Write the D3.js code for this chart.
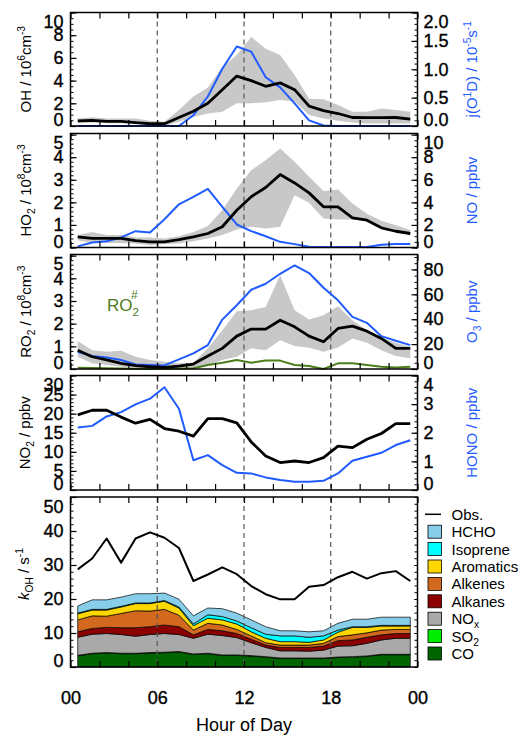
<!DOCTYPE html>
<html>
<head>
<meta charset="utf-8">
<script src="https://cdn.jsdelivr.net/npm/d3@7"></script>
<style>
  body { margin: 0; background: #fff; }
  svg { font-family: "Liberation Sans", Arial, sans-serif; }
</style>
</head>
<body>
<div id="chart"></div>
<script>
// hour-of-day bin centres
const hours = [0.5, 1.5, 2.5, 3.5, 4.5, 5.5, 6.5, 7.5, 8.5, 9.5, 10.5, 11.5,
               12.5, 13.5, 14.5, 15.5, 16.5, 17.5, 18.5, 19.5, 20.5, 21.5, 22.5, 23.5];
const hourTicks = [0, 2, 4, 6, 8, 10, 12, 14, 16, 18, 20, 22, 24];
const hourLabels = [0, 6, 12, 18, 24];
const dashedHours = [6, 12, 18];

// panel 1: OH (10^6 cm-3) and j(O1D) (10^-5 s-1)
const ohMean = [0.45, 0.5, 0.4, 0.4, 0.3, 0.2, 0.2, 0.75, 1.3, 2.0, 3.2, 4.4, 4.0, 3.5, 3.8, 3.2, 1.75, 1.35, 1.1, 0.75, 0.73, 0.73, 0.75, 0.6];
const ohHi   = [0.67, 0.76, 0.67, 0.67, 0.67, 0.47, 0.38, 1.4, 2.6, 3.4, 5.2, 6.25, 7.85, 6.8, 6.25, 4.5, 2.4, 2.35, 1.85, 1.26, 1.26, 1.55, 1.4, 1.26];
const ohLo   = [0.23, 0.3, 0.25, 0.25, 0.2, 0.1, 0.0, 0.38, 0.8, 1.1, 1.26, 2.0, 2.0, 2.1, 2.3, 2.15, 0.97, 0.67, 0.47, 0.3, 0.23, 0.23, 0.23, 0.23];
const jO1D   = [0, 0, 0, 0, 0, 0, 0, 0, 0.19, 0.52, 1.01, 1.40, 1.31, 0.86, 0.68, 0.40, 0.10, 0.01, 0, 0, 0, 0, 0, 0];

// panel 2: HO2 (10^8 cm-3) and NO (ppbv)
const ho2Mean = [0.47, 0.4, 0.4, 0.4, 0.3, 0.25, 0.25, 0.35, 0.47, 0.62, 0.92, 1.65, 2.25, 2.66, 3.23, 2.86, 2.42, 1.8, 1.8, 1.31, 1.21, 0.87, 0.72, 0.62];
const ho2Hi   = [0.55, 0.69, 0.55, 0.55, 0.44, 0.44, 0.4, 0.5, 0.69, 0.95, 1.65, 2.61, 3.42, 3.87, 4.39, 3.8, 3.13, 2.5, 2.57, 1.95, 1.5, 1.18, 0.99, 0.77];
const ho2Lo   = [0.32, 0.2, 0.2, 0.2, 0.18, 0.1, 0.15, 0.18, 0.28, 0.4, 0.55, 0.8, 0.92, 0.84, 0.92, 2.32, 1.98, 1.29, 1.24, 1.24, 1.17, 0.92, 0.77, 0.52];
const noVals  = [0.1, 0.45, 0.56, 0.89, 1.45, 1.33, 2.5, 3.83, 4.48, 5.19, 3.6, 2.04, 1.45, 1.0, 0.5, 0.3, 0.06, 0.05, 0.05, 0.05, 0.05, 0.24, 0.3, 0.3];

// panel 3: RO2 (10^8 cm-3), RO2# and O3 (ppbv)
const ro2Mean = [0.83, 0.54, 0.4, 0.25, 0.15, 0.1, 0.07, 0.13, 0.22, 0.57, 0.91, 1.45, 1.76, 1.76, 2.15, 1.86, 1.45, 1.2, 1.79, 1.89, 1.67, 1.35, 0.91, 0.91];
const ro2Hi   = [1.24, 0.83, 0.76, 0.8, 0.54, 0.4, 0.32, 0.25, 0.28, 0.91, 1.71, 2.55, 2.59, 2.74, 4.13, 2.59, 2.18, 2.37, 2.77, 2.15, 1.71, 1.39, 1.16, 0.98];
const ro2Lo   = [0.54, 0.25, 0.18, 0.1, 0.07, 0.03, 0.03, 0.03, 0.07, 0.18, 0.4, 0.54, 0.91, 0.83, 1.27, 1.01, 0.94, 0.76, 0.95, 1.35, 1.16, 0.83, 0.57, 0.47];
const ro2Sharp = [0.06, 0.04, 0.03, 0.02, 0.01, 0.0, 0.0, 0.01, 0.03, 0.18, 0.28, 0.4, 0.28, 0.37, 0.37, 0.18, 0.13, 0.0, 0.25, 0.25, 0.18, 0.1, 0.07, 0.1];
const o3Vals  = [13.9, 10.4, 9.3, 7.2, 3.7, 3.2, 2.9, 7.7, 12.5, 19.2, 39.7, 51.2, 63.7, 68.5, 76.5, 83.2, 77.1, 65.3, 55.2, 41.9, 37.1, 26.4, 22.7, 19.2];

// panel 4: NO2 and HONO (ppbv)
const no2Vals  = [19.7, 20.9, 20.9, 19.1, 17.5, 18.5, 16.1, 15.4, 14.1, 18.7, 18.7, 17.6, 12.6, 8.9, 7.2, 7.6, 7.2, 8.5, 11.5, 11.1, 13.3, 14.8, 17.4, 17.4];
const honoVals = [2.18, 2.24, 2.57, 2.72, 2.99, 3.19, 3.59, 2.84, 1.04, 1.22, 0.87, 0.6, 0.58, 0.44, 0.35, 0.29, 0.29, 0.32, 0.58, 1.02, 1.16, 1.3, 1.57, 1.74];

// panel 5: kOH (s-1), observed and calculated contributions
const kObs      = [28.7, 31.9, 37.8, 30.7, 37.8, 39.6, 38.0, 35.0, 25.3, 27.2, 29.3, 27.3, 23.8, 21.4, 19.9, 19.9, 23.6, 24.1, 26.4, 28.0, 26.0, 27.6, 28.2, 25.3];
const kCO       = [3.3, 3.9, 4.1, 3.9, 3.9, 4.1, 4.2, 4.4, 3.7, 3.9, 3.4, 3.4, 3.2, 2.9, 2.5, 2.5, 2.5, 2.5, 2.8, 2.9, 3.1, 3.6, 3.6, 3.6];
const kSO2      = [0.15, 0.15, 0.15, 0.15, 0.15, 0.15, 0.15, 0.15, 0.15, 0.15, 0.15, 0.15, 0.15, 0.15, 0.15, 0.15, 0.15, 0.15, 0.15, 0.15, 0.15, 0.15, 0.15, 0.15];
const kNOx      = [5.3, 5.6, 5.6, 5.5, 5.0, 5.3, 5.5, 5.0, 4.6, 5.6, 5.7, 5.1, 3.8, 2.7, 2.1, 2.1, 2.0, 2.3, 3.2, 3.2, 3.7, 4.2, 4.7, 4.7];
const kAlkanes  = [1.6, 1.7, 1.8, 2.0, 2.5, 2.3, 2.5, 2.3, 1.0, 1.4, 1.4, 1.2, 1.0, 0.7, 1.0, 1.0, 1.1, 1.2, 1.6, 1.7, 1.8, 1.5, 1.4, 1.4];
const kAlkenes  = [3.5, 3.7, 3.3, 4.2, 5.0, 4.6, 4.6, 3.4, 1.4, 1.8, 1.7, 1.2, 1.0, 0.7, 0.7, 0.7, 0.7, 0.8, 1.2, 1.5, 1.3, 1.4, 1.2, 1.2];
const kAromatics = [1.8, 1.7, 1.8, 1.9, 2.1, 2.2, 2.4, 2.1, 1.3, 1.5, 1.5, 1.6, 1.2, 1.3, 1.0, 1.0, 0.8, 1.0, 1.3, 2.2, 1.6, 1.2, 1.0, 1.0];
const kIsoprene = [0.2, 0.2, 0.2, 0.2, 0.2, 0.2, 0.2, 0.3, 0.5, 1.0, 1.0, 0.9, 1.2, 1.2, 1.7, 1.7, 1.5, 1.2, 0.6, 0.2, 0.2, 0.2, 0.2, 0.2];
const kHCHO     = [2.1, 2.8, 2.8, 2.7, 2.7, 2.7, 2.2, 2.3, 2.4, 2.0, 2.3, 2.3, 2.3, 2.2, 1.5, 1.5, 1.6, 1.5, 2.0, 2.2, 2.2, 2.4, 2.4, 2.4];

const groups = ["CO", "SO2", "NOx", "Alkanes", "Alkenes", "Aromatics", "Isoprene", "HCHO"];
const groupValues = [kCO, kSO2, kNOx, kAlkanes, kAlkenes, kAromatics, kIsoprene, kHCHO];
const groupColors = ["#006400", "#00ee00", "#a9a9a9", "#8b0000", "#d2691e", "#ffd700", "#00ffff", "#87ceeb"];
const legendOrder = ["HCHO", "Isoprene", "Aromatics", "Alkenes", "Alkanes", "NOx", "SO2", "CO"];

const blue = "#1f5bff", green = "#4b7d1c", band = "#c8c8c8";

const svg = d3.select("#chart").append("svg")
    .attr("width", 518)
    .attr("height", 735);

const x = d3.scaleLinear().domain([0, 24]).range([70.5, 417.5]);

// text with sub/superscripts: parts = [[text, "n"|"sub"|"sup"|"i"]]
function rich(t, parts, size) {
  let cur = 0;
  parts.forEach(([s, k]) => {
    const off = k === "sup" ? -size * 0.42 : k === "sub" ? size * 0.28 : 0;
    const ts = t.append("tspan")
        .attr("dy", off - cur)
        .attr("font-size", (k === "sup" || k === "sub") ? size * 0.68 : size)
        .text(s);
    if (k === "i") ts.attr("font-style", "italic");
    cur = off;
  });
}

function yAxis(g, scale, side, major, minor, top, bottom) {
  const mk = side === "left" ? d3.axisLeft : d3.axisRight;
  g.append("g")
      .call(mk(scale).tickValues(minor).tickSizeInner(-3).tickSizeOuter(0).tickFormat(""))
      .call(a => a.select(".domain").remove());
  const ax = g.append("g")
      .call(mk(scale).tickValues(major).tickSizeInner(-6).tickSizeOuter(0)
        .tickPadding(side === "left" ? 7 : 6)
        .tickFormat(major.fmt || (d => d)))
      .call(a => a.select(".domain").remove());
  ax.selectAll("line").attr("stroke-width", 1.2);
  // keep end labels inside the frame, as in the original
  ax.selectAll("text")
      .attr("font-size", 18)
      .attr("fill", "#000")
      .attr("stroke", "#000")
      .attr("stroke-width", 0.35)
      .attr("font-family", "Liberation Sans, Arial, sans-serif")
      .attr("y", d => {
        const p = scale(d);
        const c = Math.max(top + 9.5, Math.min(bottom - 6, p));
        return c - p;
      });
  g.selectAll("line").attr("stroke", "#000");
}

function panel(cfg) {
  const g = svg.append("g");
  const y = d3.scaleLinear().domain(cfg.yDomain).range([cfg.bottom, cfg.top]);
  const y2 = d3.scaleLinear().domain(cfg.y2Domain || cfg.yDomain).range([cfg.bottom, cfg.top]);

  const plot = g.append("g");
  cfg.draw(plot, y, y2);

  // dashed hour markers
  plot.selectAll(".dash").data(dashedHours).join("line")
      .attr("x1", d => x(d)).attr("x2", d => x(d))
      .attr("y1", cfg.top).attr("y2", cfg.bottom)
      .attr("stroke", "#555").attr("stroke-width", 1.2)
      .attr("stroke-dasharray", "5,4");

  if (cfg.drawTop) cfg.drawTop(plot, y, y2);

  // x ticks, top and bottom, pointing inward
  g.append("g").attr("transform", `translate(0,${cfg.bottom})`)
      .call(d3.axisBottom(x).tickValues(hourTicks).tickSizeInner(-6).tickSizeOuter(0).tickFormat(""))
      .call(a => a.select(".domain").remove())
      .selectAll("line").attr("stroke", "#000").attr("stroke-width", 1.2);
  g.append("g").attr("transform", `translate(0,${cfg.top})`)
      .call(d3.axisTop(x).tickValues(hourTicks).tickSizeInner(-6).tickSizeOuter(0).tickFormat(""))
      .call(a => a.select(".domain").remove())
      .selectAll("line").attr("stroke", "#000").attr("stroke-width", 1.2);

  const la = g.append("g").attr("transform", `translate(${x(0)},0)`);
  yAxis(la, y, "left", cfg.yMajor, cfg.yMinor, cfg.top, cfg.bottom);
  const ra = g.append("g").attr("transform", `translate(${x(24)},0)`);
  if (cfg.y2Major) yAxis(ra, y2, "right", cfg.y2Major, cfg.y2Minor, cfg.top, cfg.bottom);
  else yAxis(ra, y, "right", [], cfg.yMinor.concat(cfg.yMajor), cfg.top, cfg.bottom);

  g.append("rect")
      .attr("x", x(0)).attr("y", cfg.top)
      .attr("width", x(24) - x(0)).attr("height", cfg.bottom - cfg.top)
      .attr("fill", "none").attr("stroke", "#000").attr("stroke-width", 1.5);

  const cy = (cfg.top + cfg.bottom) / 2;
  const lt = g.append("text")
      .attr("transform", `translate(${cfg.leftTitleX || 31},${cy + (cfg.leftTitleDy || 0)}) rotate(-90)`)
      .attr("text-anchor", "middle")
      .attr("fill", "#000");
  rich(lt, cfg.leftTitle, 15);
  if (cfg.rightTitle) {
    const rt = g.append("text")
        .attr("transform", `translate(${cfg.rightTitleX || 477},${cy}) rotate(-90)`)
        .attr("text-anchor", "middle")
        .attr("fill", blue);
    rich(rt, cfg.rightTitle, 15);
  }
  return g;
}

function range(a, b, s) {
  const out = [];
  for (let v = a; v <= b + 1e-9; v += s) out.push(+v.toFixed(3));
  return out;
}

function bandArea(plot, y, lo, hi) {
  plot.append("path")
      .datum(hours.map((h, i) => [h, lo[i], hi[i]]))
      .attr("fill", band)
      .attr("d", d3.area().x(d => x(d[0])).y0(d => y(d[1])).y1(d => y(d[2])));
}

function line(plot, y, vals, color, w) {
  plot.append("path")
      .datum(hours.map((h, i) => [h, vals[i]]))
      .attr("fill", "none")
      .attr("stroke", color)
      .attr("stroke-width", w)
      .attr("stroke-linejoin", "round")
      .attr("d", d3.line().x(d => x(d[0])).y(d => y(d[1])));
}

// ---- panel 1 ----
const j1 = range(0, 2, 0.5); j1.fmt = d3.format(".1f");
panel({
  top: 12.5, bottom: 126,
  yDomain: [0, 10], yMajor: range(0, 10, 2), yMinor: range(0, 10, 0.5),
  y2Domain: [0, 2], y2Major: j1, y2Minor: range(0, 2, 0.1),
  leftTitle: [["OH / 10", "n"], ["6", "sup"], ["cm", "n"], ["-3", "sup"]],
  rightTitle: [["j(O", "n"], ["1", "sup"], ["D) / 10", "n"], ["-5", "sup"], ["s", "n"], ["-1", "sup"]],
  draw: (p, y) => bandArea(p, y, ohLo, ohHi),
  drawTop: (p, y, y2) => {
    line(p, y2, jO1D, blue, 2);
    line(p, y, ohMean, "#000", 2.8);
  }
});

// ---- panel 2 ----
panel({
  top: 133.5, bottom: 247.5,
  yDomain: [0, 5.05], yMajor: range(0, 5, 1), yMinor: range(0, 5, 0.2),
  y2Domain: [0, 10.1], y2Major: range(0, 10, 2), y2Minor: range(0, 10, 0.5),
  leftTitle: [["HO", "n"], ["2", "sub"], [" / 10", "n"], ["8", "sup"], ["cm", "n"], ["-3", "sup"]],
  rightTitle: [["NO / ppbv", "n"]],
  draw: (p, y) => bandArea(p, y, ho2Lo, ho2Hi),
  drawTop: (p, y, y2) => {
    line(p, y2, noVals, blue, 2);
    line(p, y, ho2Mean, "#000", 2.8);
  }
});

// ---- panel 3 ----
panel({
  top: 254.5, bottom: 369,
  yDomain: [0, 5.05], yMajor: range(0, 5, 1), yMinor: range(0, 5, 0.2),
  y2Domain: [0, 92], y2Major: range(0, 80, 20), y2Minor: range(0, 90, 5),
  leftTitle: [["RO", "n"], ["2", "sub"], [" / 10", "n"], ["8", "sup"], ["cm", "n"], ["-3", "sup"]],
  rightTitle: [["O", "n"], ["3", "sub"], [" / ppbv", "n"]],
  draw: (p, y) => bandArea(p, y, ro2Lo, ro2Hi),
  drawTop: (p, y, y2) => {
    line(p, y2, o3Vals, blue, 2);
    line(p, y, ro2Sharp, green, 2);
    line(p, y, ro2Mean, "#000", 2.8);
    const t = p.append("text").attr("x", 107).attr("y", 311).attr("fill", green);
    rich(t, [["RO", "n"], ["2", "sub"]], 17);
    p.append("text").attr("x", 131).attr("y", 299).attr("fill", green)
        .attr("font-size", 12).text("#");
  }
});

// ---- panel 4 ----
panel({
  top: 375.5, bottom: 490,
  yDomain: [0, 30], yMajor: range(0, 30, 5), yMinor: range(0, 30, 1),
  y2Domain: [0, 4], y2Major: range(0, 4, 1), y2Minor: range(0, 4, 0.2),
  leftTitle: [["NO", "n"], ["2", "sub"], [" / ppbv", "n"]],
  leftTitleX: 30,
  rightTitle: [["HONO / ppbv", "n"]],
  draw: () => {},
  drawTop: (p, y, y2) => {
    line(p, y2, honoVals, blue, 2);
    line(p, y, no2Vals, "#000", 2.8);
  }
});

// ---- panel 5 ----
const stackRows = hours.map((h, i) => {
  const r = { hour: h };
  groups.forEach((k, j) => { r[k] = groupValues[j][i]; });
  return r;
});
const series = d3.stack().keys(groups)(stackRows);
const color = d3.scaleOrdinal().domain(groups).range(groupColors);

panel({
  top: 497, bottom: 667,
  yDomain: [0, 50], yMajor: range(0, 50, 10), yMinor: range(0, 50, 2),
  leftTitle: [["k", "i"], ["OH", "sub"], [" / s", "n"], ["-1", "sup"]],
  leftTitleX: 29, leftTitleDy: -8,
  draw: (p, y) => {
    p.selectAll(".stack").data(series).join("path")
        .attr("fill", d => color(d.key))
        .attr("stroke", "#000")
        .attr("stroke-width", 0.7)
        .attr("d", d3.area()
          .x(d => x(d.data.hour))
          .y0(d => y(d[0]))
          .y1(d => y(d[1])));
  },
  drawTop: (p, y) => line(p, y, kObs, "#000", 2)
});

// hour labels
svg.append("g").attr("transform", "translate(0,667)")
    .call(d3.axisBottom(x).tickValues(hourLabels).tickSize(0).tickPadding(24)
      .tickFormat(d => d3.format("02d")(d % 24)))
    .call(a => a.select(".domain").remove())
    .selectAll("text")
      .attr("font-size", 18)
      .attr("fill", "#000")
      .attr("stroke", "#000")
      .attr("stroke-width", 0.35)
      .attr("font-family", "Liberation Sans, Arial, sans-serif");

svg.append("text")
    .attr("x", x(12)).attr("y", 731)
    .attr("text-anchor", "middle")
    .attr("font-size", 18)
    .text("Hour of Day");

// legend
const legendLabels = {
  HCHO: [["HCHO", "n"]], Isoprene: [["Isoprene", "n"]], Aromatics: [["Aromatics", "n"]],
  Alkenes: [["Alkenes", "n"]], Alkanes: [["Alkanes", "n"]], NOx: [["NO", "n"], ["x", "sub"]],
  SO2: [["SO", "n"], ["2", "sub"]], CO: [["CO", "n"]]
};
const leg = svg.append("g");
const ly = d3.scalePoint().domain(["Obs."].concat(legendOrder)).range([514.3, 653.5]);
leg.append("line")
    .attr("x1", 425).attr("x2", 441)
    .attr("y1", ly("Obs.")).attr("y2", ly("Obs."))
    .attr("stroke", "#000").attr("stroke-width", 1.5);
leg.append("text").attr("x", 451.5).attr("y", ly("Obs.") + 5.5)
    .attr("font-size", 15).text("Obs.");
legendOrder.forEach(k => {
  leg.append("rect")
      .attr("x", 428).attr("y", ly(k) - 6.5)
      .attr("width", 13.5).attr("height", 13)
      .attr("fill", color(k))
      .attr("stroke", "#000").attr("stroke-width", 0.8);
  const t = leg.append("text").attr("x", 451.5).attr("y", ly(k) + 5.5);
  rich(t, legendLabels[k], 15);
});
</script>
</body>
</html>
